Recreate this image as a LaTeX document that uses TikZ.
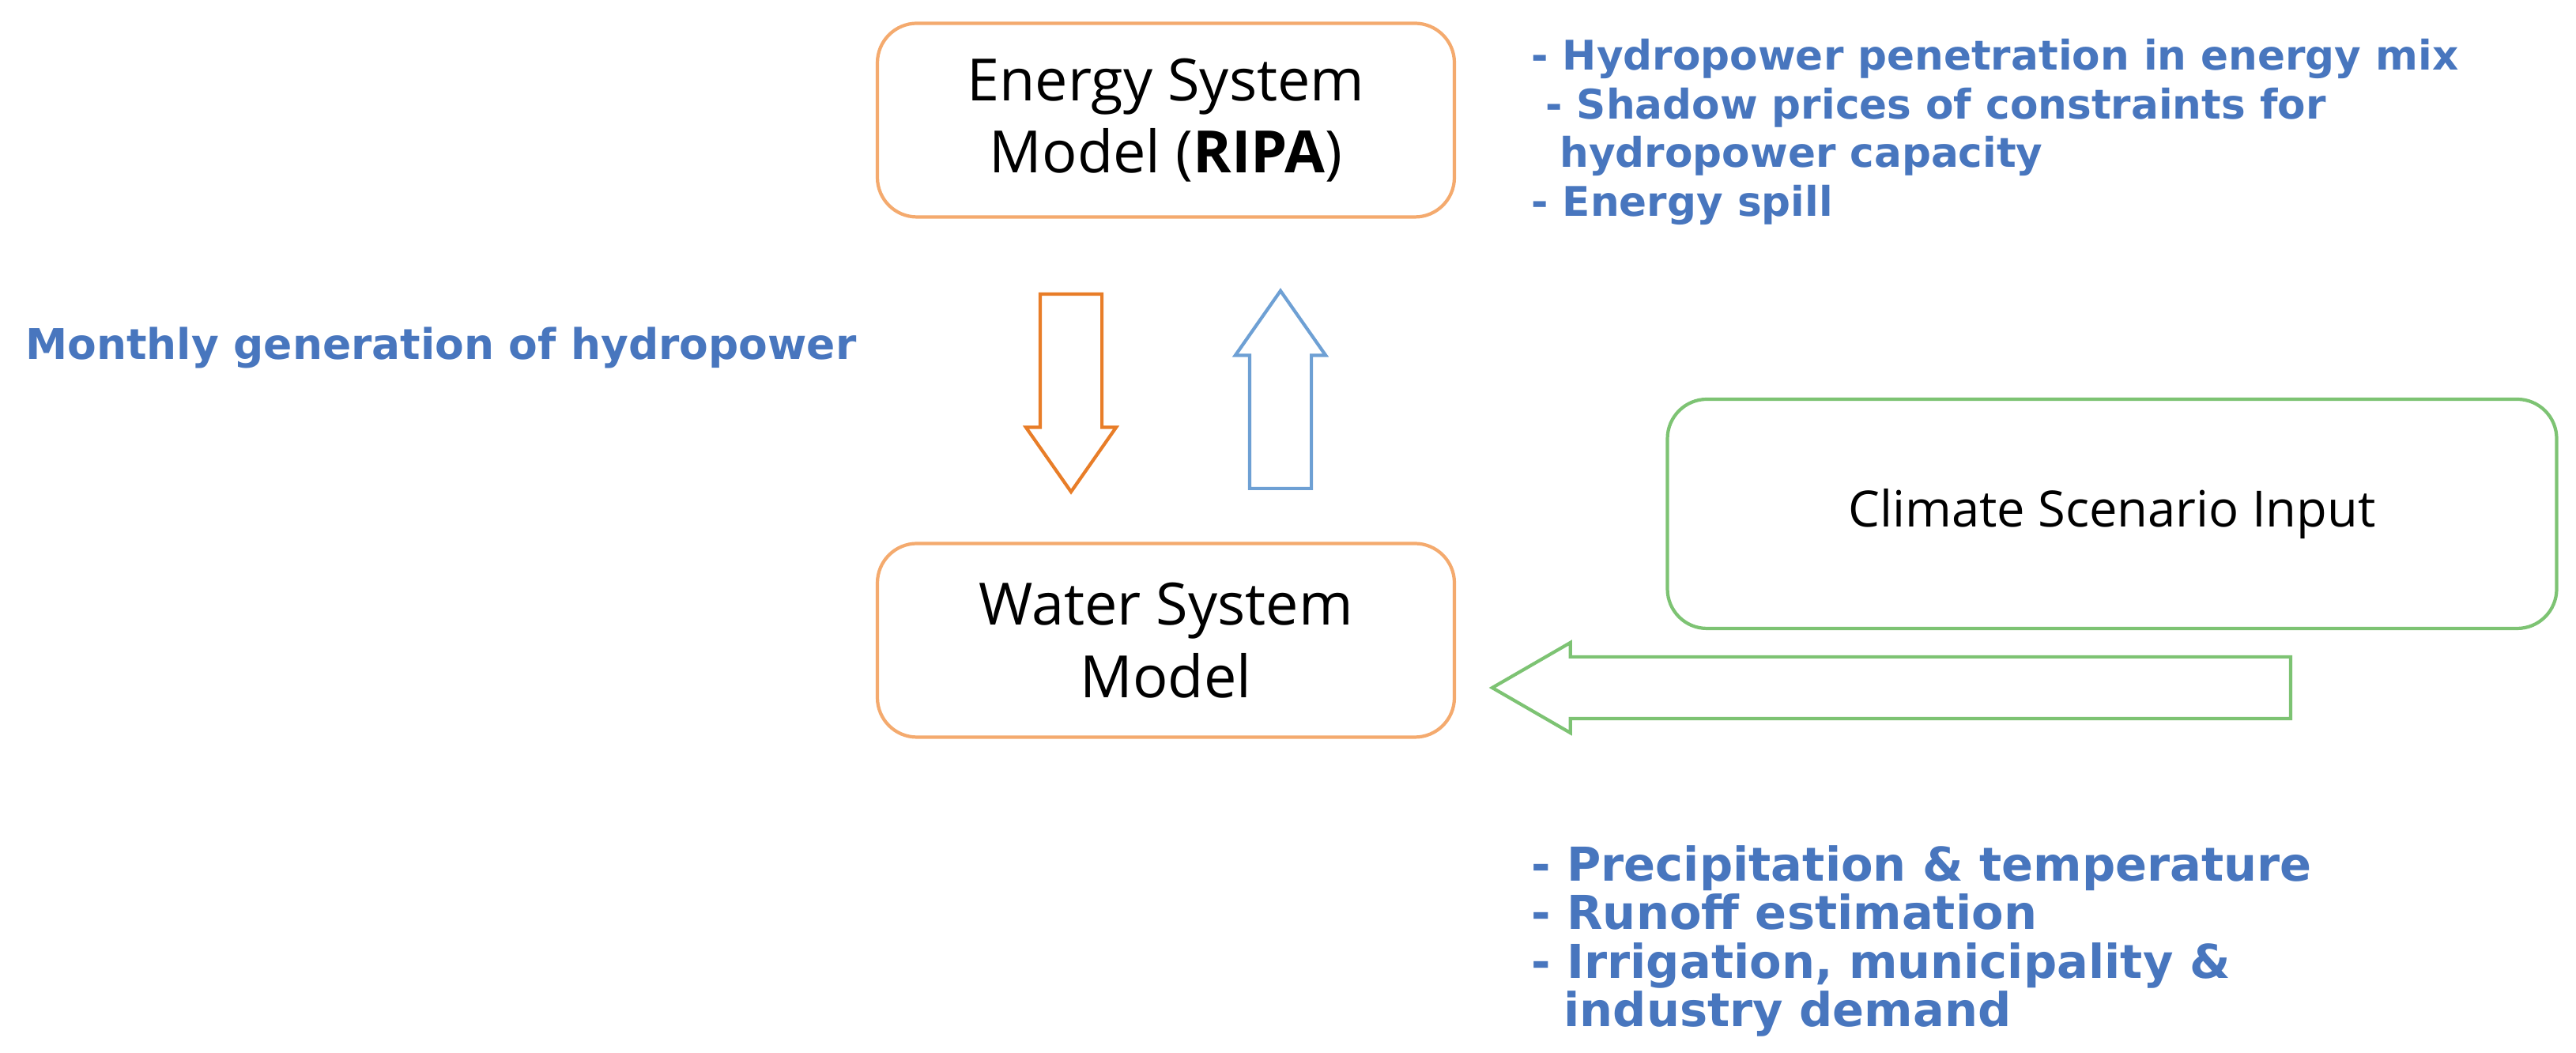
\documentclass[tikz,border=0pt]{standalone}
\usepackage{fontspec}
\setmainfont{Open Sans}
\newfontfamily\listfont{DejaVu Sans}
\usetikzlibrary{shapes.arrows}
\definecolor{boxorange}{RGB}{244,170,110}
\definecolor{arrorange}{RGB}{232,125,40}
\definecolor{arrblue}{RGB}{110,160,212}
\definecolor{boxgreen}{RGB}{125,195,115}
\definecolor{txtblue}{RGB}{72,118,190}
\begin{document}
\begin{tikzpicture}[x=1cm,y=1cm]
    % Define styles
    \tikzset{
        model/.style={rectangle, rounded corners=0.5cm, draw=boxorange, line width=1.2pt, fill=white, minimum width=7.3cm, minimum height=2.45cm, align=center, font=\fontsize{21}{26}\selectfont},
        blockarrow/.style={single arrow, draw, line width=1.2pt, fill=white, inner xsep=0pt, inner ysep=0.37cm, single arrow head extend=0.18cm, single arrow tip angle=70, anchor=tail},
        note/.style={anchor=west, align=left, text=txtblue, font=\listfont\bfseries\fontsize{14.7}{17.5}\selectfont}
    }
    \useasboundingbox (0,0) rectangle (32.59,13.32);

    % Nodes
    \node (energy) [model] at (14.75,11.80) {Energy System\\Model (\textbf{RIPA})};
    \node (water) [model] at (14.75,5.22) {Water System\\Model};
    \node (climate) [model, draw=boxgreen, minimum width=11.25cm, minimum height=2.9cm, font=\fontsize{18}{22}\selectfont] at (26.72,6.82) {Climate Scenario Input};

    % Block arrows
    \node (down) [blockarrow, draw=arrorange, minimum height=2.5cm, rotate=-90] at (13.55,9.62) {};
    \node (up) [blockarrow, draw=arrblue, minimum height=2.5cm, rotate=90] at (16.20,7.12) {};
    \node (left) [blockarrow, draw=boxgreen, minimum height=10.1cm, single arrow tip angle=60, rotate=180] at (29.0,4.62) {};

    % Labels
    \node (monthly) [note, font=\listfont\bfseries\fontsize{15.2}{18}\selectfont] at (0.2,8.92) {Monthly generation of hydropower};
    \node (outputs) [note, anchor=north west] at (19.25,12.95) {- Hydropower penetration in energy mix\\
        \ - Shadow prices of constraints for\\
        \ \ hydropower capacity\\
        - Energy spill};
    \node (inputs) [note, anchor=north west, font=\listfont\bfseries\fontsize{16.8}{17.5}\selectfont] at (19.25,2.75) {- Precipitation \& temperature\\
        - Runoff estimation\\
        - Irrigation, municipality \&\\
        \ \ industry demand};
\end{tikzpicture}
\end{document}
